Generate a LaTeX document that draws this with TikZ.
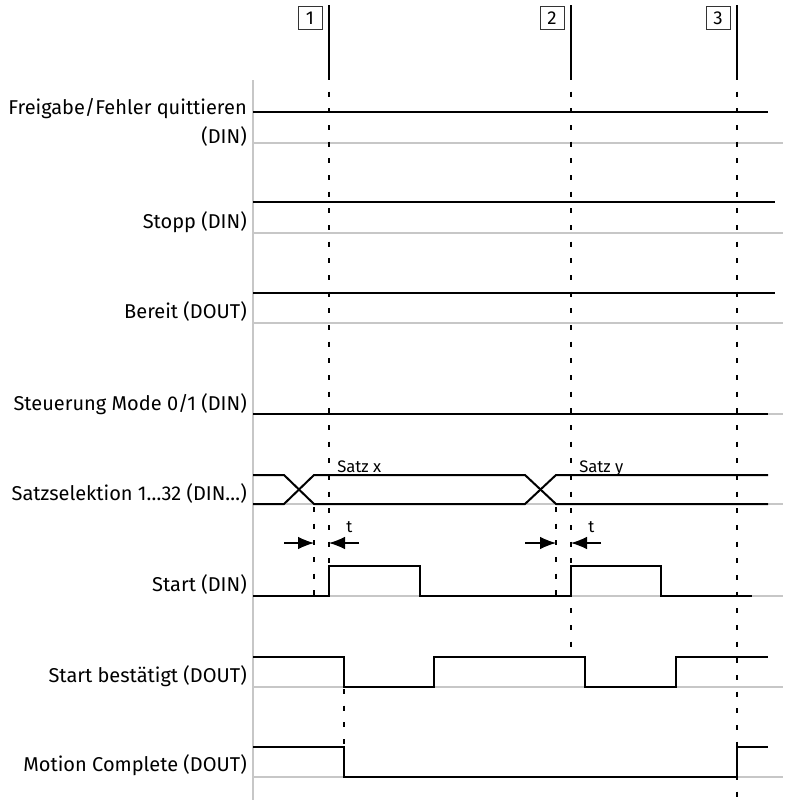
\documentclass[tikz,border=0pt]{standalone}
\usepackage{fontspec}
\setmainfont{Fira Sans}
\usetikzlibrary{arrows, arrows.meta, positioning}

\begin{document}
\begin{tikzpicture}[x=0.75pt, y=-0.75pt, >={Latex[length=12pt,width=9.5pt]}]
        \tikzstyle{sig_style} = [line width=1.5pt, black, line join=miter]
        \tikzstyle{base_style} = [line width=1.5pt, black!22]
        \tikzstyle{mark_style} = [line width=0.8pt, black]
        \tikzstyle{guide_style} = [line width=0.9pt, black, dash pattern=on 3.75pt off 8.75pt]
        \tikzstyle{label_style} = [anchor=base east, inner sep=0pt, font=\fontsize{15}{18}\selectfont]
        \tikzstyle{small_style} = [anchor=base west, inner sep=0pt, font=\fontsize{12.5}{14}\selectfont]
        \tikzstyle{box_style} = [rectangle, draw=black!80, line width=0.5pt, minimum width=18pt, minimum height=17.5pt, inner sep=0pt, font=\fontsize{14}{15}\selectfont]
        \tikzstyle{arrow_t} = [line width=0.9pt, ->]

        \useasboundingbox (0,0) rectangle (787,800);

        % Time marks 1, 2, 3
        \coordinate (t1) at (329,5);
        \coordinate (t2) at (571,5);
        \coordinate (t3) at (737,5);
        \node (m1) [box_style, below left=0.75pt and 5pt of t1] {1};
        \node (m2) [box_style, below left=0.75pt and 5pt of t2] {2};
        \node (m3) [box_style, below left=0.75pt and 5pt of t3] {3};
        \draw [mark_style] (t1) -- ++(0,70) coordinate (d1);
        \draw [mark_style] (t2) -- ++(0,70) coordinate (d2);
        \draw [mark_style] (t3) -- ++(0,70) coordinate (d3);

        % Signal axis and base lines
        \draw [base_style] (253,80) -- (253,800);
        \draw [base_style] (253,143) -- (783,143);
        \draw [base_style] (253,233) -- (783,233);
        \draw [base_style] (253,323) -- (783,323);
        \draw [base_style] (253,414) -- (783,414);
        \draw [base_style] (253,504) -- (783,504);
        \draw [base_style] (253,596) -- (783,596);
        \draw [base_style] (253,687) -- (783,687);
        \draw [base_style] (253,777) -- (783,777);

        % Signal names
        \node (r1) [label_style] at (247,114) {Freigabe/Fehler quittieren};
        \node (r1b) [label_style] at (247,143) {(DIN)};
        \node (r2) [label_style] at (247,228) {Stopp (DIN)};
        \node (r3) [label_style] at (247,318) {Bereit (DOUT)};
        \node (r4) [label_style] at (247,410) {Steuerung Mode 0/1 (DIN)};
        \node (r5) [label_style] at (247,500) {Satzselektion 1…32 (DIN…)};
        \node (r6) [label_style] at (247,591) {Start (DIN)};
        \node (r7) [label_style] at (247,682) {Start bestätigt (DOUT)};
        \node (r8) [label_style] at (247,771) {Motion Complete (DOUT)};

        % Dashed guides
        \draw [guide_style] (d1) -- (329,600);
        \draw [guide_style] (d2) -- (571,654);
        \draw [guide_style] (d3) -- (737,800);
        \draw [guide_style] (314,507) -- (314,598);
        \draw [guide_style] (556,507) -- (556,598);
        \draw [guide_style] (344,689) -- (344,749);

        % Steady signals
        \draw [sig_style] (253,112) -- (768,112);
        \draw [sig_style] (253,202) -- (775,202);
        \draw [sig_style] (253,293) -- (775,293);
        \draw [sig_style] (253,414) -- (768,414);

        % Satzselektion
        \draw [sig_style] (253,475) -- (284,475) -- (314,504) -- (525,504) -- (556,475) -- (768,475);
        \draw [sig_style] (253,504) -- (284,504) -- (314,475) -- (525,475) -- (556,504) -- (768,504);
        \node (sx) [small_style] at (337,472) {Satz x};
        \node (sy) [small_style] at (579,472) {Satz y};

        % Setup time t
        \coordinate (a1) at (284,543);
        \coordinate (a2) at (314,543);
        \coordinate (a3) at (359,543);
        \coordinate (a4) at (329,543);
        \draw [arrow_t] (a1) -- (a2);
        \draw [arrow_t] (a3) -- (a4);
        \node (tx) [small_style] at (346,532) {t};
        \coordinate (b1) at (525,543);
        \coordinate (b2) at (556,543);
        \coordinate (b3) at (601,543);
        \coordinate (b4) at (571,543);
        \draw [arrow_t] (b1) -- (b2);
        \draw [arrow_t] (b3) -- (b4);
        \node (ty) [small_style] at (588,532) {t};

        % Start, Start bestaetigt, Motion Complete
        \draw [sig_style] (253,596) -- (329,596) -- (329,566) -- (420,566) -- (420,596) -- (571,596) -- (571,566) -- (661,566) -- (661,596) -- (752,596);
        \draw [sig_style] (253,657) -- (344,657) -- (344,687) -- (434,687) -- (434,657) -- (585,657) -- (585,687) -- (676,687) -- (676,657) -- (768,657);
        \draw [sig_style] (253,747) -- (344,747) -- (344,777) -- (737,777) -- (737,747) -- (768,747);
    \end{tikzpicture}
\end{document}
